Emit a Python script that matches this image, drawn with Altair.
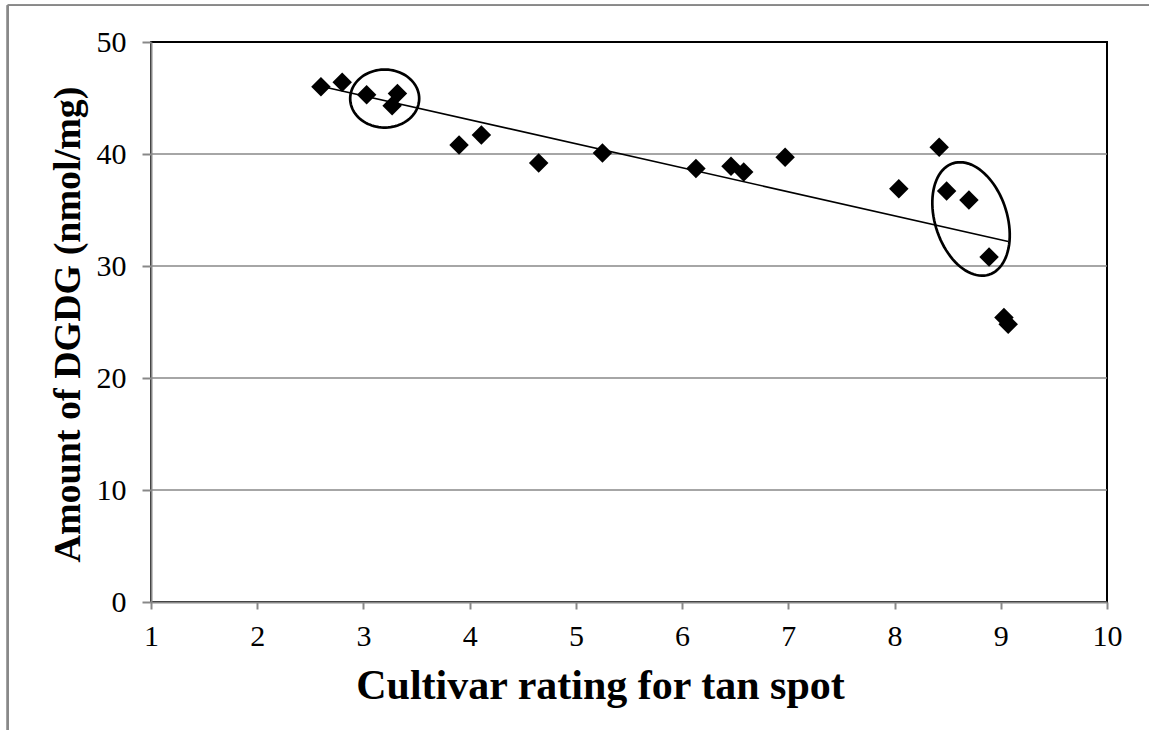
import math
import altair as alt
import pandas as pd

# Data
rating = [2.60, 2.80, 3.03, 3.32, 3.27, 3.90, 4.11, 4.65, 5.25, 6.13,
          6.46, 6.58, 6.97, 8.04, 8.42, 8.49, 8.70, 8.89, 9.03, 9.07]
dgdg = [46.0, 46.4, 45.3, 45.4, 44.3, 40.8, 41.7, 39.2, 40.1, 38.7,
        38.9, 38.4, 39.7, 36.9, 40.6, 36.7, 35.9, 30.8, 25.4, 24.8]
x_ticks = [1, 2, 3, 4, 5, 6, 7, 8, 9, 10]
y_ticks = [0, 10, 20, 30, 40, 50]
grid_lines = [10, 20, 30, 40]
ellipse_x = [3.20, 8.72]
ellipse_y = [44.95, 34.2]

df = pd.DataFrame({"rating": rating, "dgdg": dgdg})
grid_df = pd.DataFrame({"g": grid_lines})

FONT = "Liberation Serif"
W, H = 956, 560


def ellipse_path(a, b, phi_deg, n=90):
    """Outline shape for a symbol, normalised to [-1, 1] by the semi-major axis."""
    phi = math.radians(phi_deg)
    pts = []
    for i in range(n):
        t = 2 * math.pi * i / n
        dx = a * math.cos(t) * math.sin(phi) + b * math.sin(t) * math.cos(phi)
        dy = a * math.cos(t) * math.cos(phi) - b * math.sin(t) * math.sin(phi)
        pts.append((dx / a, dy / a))
    return "M" + " L".join(f"{px:.4f},{py:.4f}" for px, py in pts) + " Z"


xscale = alt.Scale(domain=[1, 10], nice=False, zero=False)
yscale = alt.Scale(domain=[0, 50], nice=False)

xaxis = alt.Axis(values=x_ticks, grid=False, title="Cultivar rating for tan spot",
                 labelFontSize=30, labelFont=FONT, labelColor="black", labelPadding=12,
                 labelFlush=False,
                 tickSize=7, tickColor="#888888", tickWidth=2,
                 domainColor="#888888", domainWidth=2,
                 titleFont=FONT, titleFontSize=42, titleFontWeight="bold",
                 titleColor="black", titleX=449, titleY=96,
                 titleAlign="center", titleBaseline="alphabetic")
yaxis = alt.Axis(values=y_ticks, grid=False, title="Amount of DGDG (nmol/mg)",
                 labelFontSize=30, labelFont=FONT, labelColor="black", labelPadding=16,
                 labelFlush=False,
                 tickSize=9, tickColor="#888888", tickWidth=2,
                 domainColor="#888888", domainWidth=2,
                 titleFont=FONT, titleFontSize=38, titleFontWeight="bold",
                 titleColor="black", titleX=-72, titleY=282, titleAngle=270,
                 titleAlign="center", titleBaseline="alphabetic")

grid = alt.Chart(grid_df).mark_rule(color="#888888", strokeWidth=1.6).encode(
    y=alt.Y("g:Q", scale=yscale, axis=yaxis)
)

points = alt.Chart(df).mark_point(shape="diamond", filled=True, color="black",
                                  size=380, opacity=1).encode(
    x=alt.X("rating:Q", scale=xscale, axis=xaxis),
    y=alt.Y("dgdg:Q", scale=yscale, axis=yaxis),
)

trend = alt.Chart(df).transform_regression("rating", "dgdg").mark_line(
    color="black", strokeWidth=1.6
).encode(
    x=alt.X("rating:Q", scale=xscale, axis=xaxis),
    y=alt.Y("dgdg:Q", scale=yscale, axis=yaxis),
)

e1_df = pd.DataFrame({"x": ellipse_x[:1], "y": ellipse_y[:1]})
e2_df = pd.DataFrame({"x": ellipse_x[1:], "y": ellipse_y[1:]})

ell1 = alt.Chart(e1_df).mark_point(
    shape=ellipse_path(34.5, 29.0, 90), filled=False, color="black",
    strokeWidth=2.7, size=(2 * 34.5) ** 2, opacity=1
).encode(x=alt.X("x:Q", scale=xscale, axis=xaxis), y=alt.Y("y:Q", scale=yscale, axis=yaxis))

ell2 = alt.Chart(e2_df).mark_point(
    shape=ellipse_path(58.5, 36.0, 18), filled=False, color="black",
    strokeWidth=2.7, size=(2 * 58.5) ** 2, opacity=1
).encode(x=alt.X("x:Q", scale=xscale, axis=xaxis), y=alt.Y("y:Q", scale=yscale, axis=yaxis))

frame_left = alt.Chart(grid_df).mark_rule(color="#888888", strokeWidth=2).encode(
    x=alt.value(-143.3), y=alt.value(-36.7), y2=alt.value(700)
)
frame_top = alt.Chart(grid_df).mark_rule(color="#888888", strokeWidth=1.6).encode(
    x=alt.value(-143.3), x2=alt.value(1000), y=alt.value(-36.7)
)

chart = alt.layer(grid, trend, points, ell1, ell2, frame_left, frame_top).properties(
    width=W, height=H,
    autosize=alt.AutoSizeParams(type="none"),
    padding={"left": 151, "top": 42, "right": 42, "bottom": 128},
    background="white",
).configure_view(stroke="black", strokeWidth=2)

chart.save("out.html", embed_options={"renderer": "svg", "actions": False})
